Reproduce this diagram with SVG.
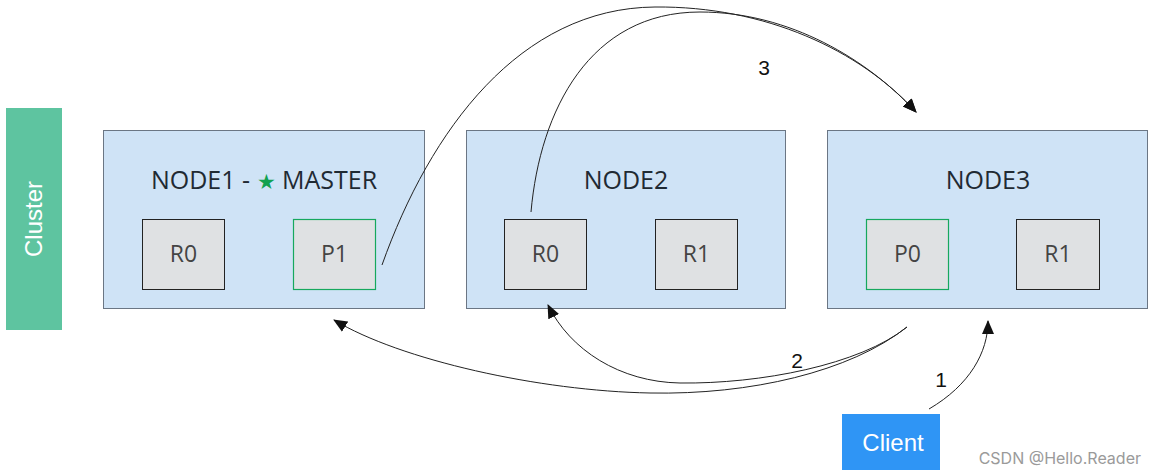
<svg xmlns="http://www.w3.org/2000/svg" width="1156" height="474" viewBox="0 0 1156 474">
<style>
.node{fill:#cfe3f6;stroke:#6b7684;stroke-width:1}
.shard{fill:#dfe1e3;stroke:#222;stroke-width:1}
.primary{fill:#dfe1e3;stroke:#16a85e;stroke-width:1.2}
.title{font-family:"Open Sans","Noto Sans",sans-serif;font-size:25px;fill:#1f2a33;text-anchor:middle}
.slabel{font-family:"Open Sans","Noto Sans",sans-serif;font-size:23px;fill:#444;text-anchor:middle}
.conn{fill:none;stroke:#222;stroke-width:1}
.num{font-family:"Liberation Sans",Arial,sans-serif;font-size:21px;fill:#111;text-anchor:middle}
</style>
<defs>
<marker id="arr" markerUnits="userSpaceOnUse" markerWidth="14" markerHeight="12" refX="13" refY="6" orient="auto">
<path d="M0,0 L14,6 L0,12 Z" fill="#111"/>
</marker>
</defs>
<rect width="1156" height="474" fill="#fff"/>
<g id="cluster">
<rect x="6" y="108" width="56" height="222" fill="#5ec4a0"/>
<text transform="translate(42,219) rotate(-90)" font-family="'Liberation Sans',Arial,sans-serif" font-size="24" fill="#fff" text-anchor="middle">Cluster</text>
</g>
<g id="node1">
<rect class="node" x="103.500" y="130.500" width="321" height="178"/>
<text class="title" x="264" y="189">NODE1 - <tspan fill="#12a150" font-size="21">★</tspan> MASTER</text>
<rect class="shard" x="142.500" y="219.500" width="82" height="70"/>
<text class="slabel" x="183.500" y="262">R0</text>
<rect class="primary" x="293.500" y="219.500" width="82" height="70"/>
<text class="slabel" x="334.500" y="262">P1</text>
</g>
<g id="node2">
<rect class="node" x="466.500" y="130.500" width="319" height="178"/>
<text class="title" x="626" y="189">NODE2</text>
<rect class="shard" x="504.500" y="219.500" width="82" height="70"/>
<text class="slabel" x="545.500" y="262">R0</text>
<rect class="shard" x="655.500" y="219.500" width="82" height="70"/>
<text class="slabel" x="696.500" y="262">R1</text>
</g>
<g id="node3">
<rect class="node" x="827.500" y="130.500" width="320" height="178"/>
<text class="title" x="988" y="189">NODE3</text>
<rect class="primary" x="866.500" y="219.500" width="82" height="70"/>
<text class="slabel" x="907.500" y="262">P0</text>
<rect class="shard" x="1016.500" y="219.500" width="83" height="70"/>
<text class="slabel" x="1058" y="262">R1</text>
</g>
<g id="client">
<rect x="842" y="414" width="98" height="56" fill="#2f95f5"/>
<text x="893" y="451" font-family="'Liberation Sans',Arial,sans-serif" font-size="24" fill="#fff" text-anchor="middle">Client</text>
</g>
<g id="connectors">
<path class="conn" d="M382,265 C430,130 520,8 655,7 C765,6 860,50 916,112" marker-end="url(#arr)"/>
<path class="conn" d="M531,212 C540,110 590,12 700,12 C790,12 868,60 916,112" marker-end="url(#arr)"/>
<path class="conn" d="M907,327 C850,372 750,395 650,393 C540,391 400,360 334,320" marker-end="url(#arr)"/>
<path class="conn" d="M907,327 C860,365 760,384 680,383 C620,382 570,350 548,305" marker-end="url(#arr)"/>
<path class="conn" d="M929,409 C970,385 988,352 988,321" marker-end="url(#arr)"/>
<text class="num" x="764" y="75">3</text>
<text class="num" x="797" y="368">2</text>
<text class="num" x="941" y="387">1</text>
</g>
<text x="1141" y="464" font-family="Inter,'Liberation Sans',sans-serif" font-size="16" fill="#9a9a9a" text-anchor="end">CSDN @Hello.Reader</text>
</svg>
